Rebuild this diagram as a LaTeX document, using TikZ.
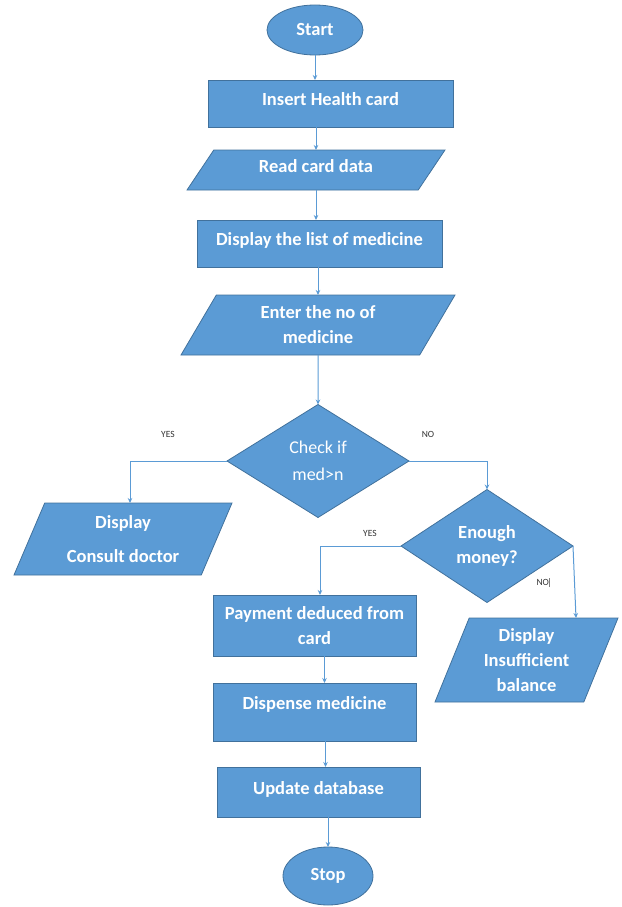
\documentclass[tikz,border=0pt]{standalone}
\usepackage{fontspec}
\setmainfont{Carlito}
\usepackage{xcolor}
\usetikzlibrary{shapes.geometric,arrows.meta,positioning,calc}
\definecolor{boxblue}{HTML}{5B9BD5}
\definecolor{edgeblue}{HTML}{41719C}

\begin{document}
\begin{tikzpicture}[x=1pt, y=-1pt,
    box/.style={rectangle, draw=edgeblue, fill=boxblue, line width=0.8pt, text=white,
        font=\fontsize{18.5}{25}\selectfont\bfseries, align=center, inner sep=2pt, outer sep=0pt},
    term/.style={box, ellipse},
    io/.style 2 args={box, trapezium, trapezium stretches body,
        trapezium left angle=#1, trapezium right angle=#2},
    decision/.style={box, diamond, inner sep=0pt},
    arr/.style={-{Stealth[length=5pt,width=4.5pt]}, draw=boxblue, line width=1pt},
    lbl/.style={font=\fontsize{9.5}{11}\selectfont, text=black!80}
]
\useasboundingbox (0,0) rectangle (621,907);

% main column
\node[term, minimum width=96pt, minimum height=50pt] (start) at (315,30) {Start};
\node[box, minimum width=245pt, minimum height=47pt, text depth=8pt] (insert) at (330.5,103.5) {Insert Health card};
\node[io={43}{137}, minimum width=258pt, minimum height=40pt, text depth=8pt] (read) at (316,170) {Read card data};
\node[box, minimum width=245pt, minimum height=47pt, text depth=8pt] (list) at (319.5,243.5) {Display the list of medicine};
\node[io={50}{130}, minimum width=274pt, minimum height=60pt] (enter) at (318,325) {Enter the no of\\medicine};
\node[decision, minimum width=182pt, minimum height=113pt,
    font=\fontsize{18}{27}\selectfont] (check) at (318,461) {Check if\\med>n};

% yes branch of the check
\node[io={59}{121}, minimum width=218pt, minimum height=72pt,
    font=\fontsize{18.5}{34}\selectfont\bfseries] (consult) at (123,539) {Display\\Consult doctor};

% no branch of the check
\node[decision, minimum width=172pt, minimum height=113pt] (money) at (487,546) {Enough\\money?};
\node[io={63}{117}, minimum width=183pt, minimum height=84pt] (insuff) at (526.5,660) {Display\\Insufficient\\balance};
\node[box, minimum width=203pt, minimum height=61pt] (pay) at (314.5,625.5) {Payment deduced from\\card};
\node[box, minimum width=203pt, minimum height=58pt, text depth=18pt] (dispense) at (314.5,712) {Dispense medicine};
\node[box, minimum width=203pt, minimum height=50pt, text depth=8pt] (update) at (318.5,792) {Update database};
\node[term, minimum width=90pt, minimum height=58pt] (stop) at (328,876) {Stop};

% branch labels
\node[lbl] (yesA) at (168,434) {YES};
\node[lbl] (noA) at (428,434) {NO};
\node[lbl] (yesB) at (370,533) {YES};
\node[lbl] (noB) at (543,582) {NO\textcolor{black!50}{\rule[-1pt]{0.4pt}{9pt}}};

% connectors
\draw[arr] (start) -- (start |- insert.north);
\draw[arr] (insert.south -| read.north) -- (read.north);
\draw[arr] (read.south) -- (read.south |- list.north);
\draw[arr] (list.south -| enter.north) -- (enter.north);
\draw[arr] (enter.south) -- (check.north);
\draw[arr] (check.west) -| ([xshift=7pt]consult.north);
\draw[arr] (check.east) -| (money.north);
\draw[arr] (money.west) -| ([xshift=5.5pt]pay.north);
\draw[arr] (money.east) -- ([xshift=3pt]money.east |- insuff.north);
\draw[arr] ([xshift=10pt]pay.south) -- ([xshift=10pt]pay.south |- dispense.north);
\draw[arr] ([xshift=11pt]dispense.south) -- ([xshift=11pt]dispense.south |- update.north);
\draw[arr] (update.south -| stop) -- (stop.north);

\end{tikzpicture}
\end{document}
